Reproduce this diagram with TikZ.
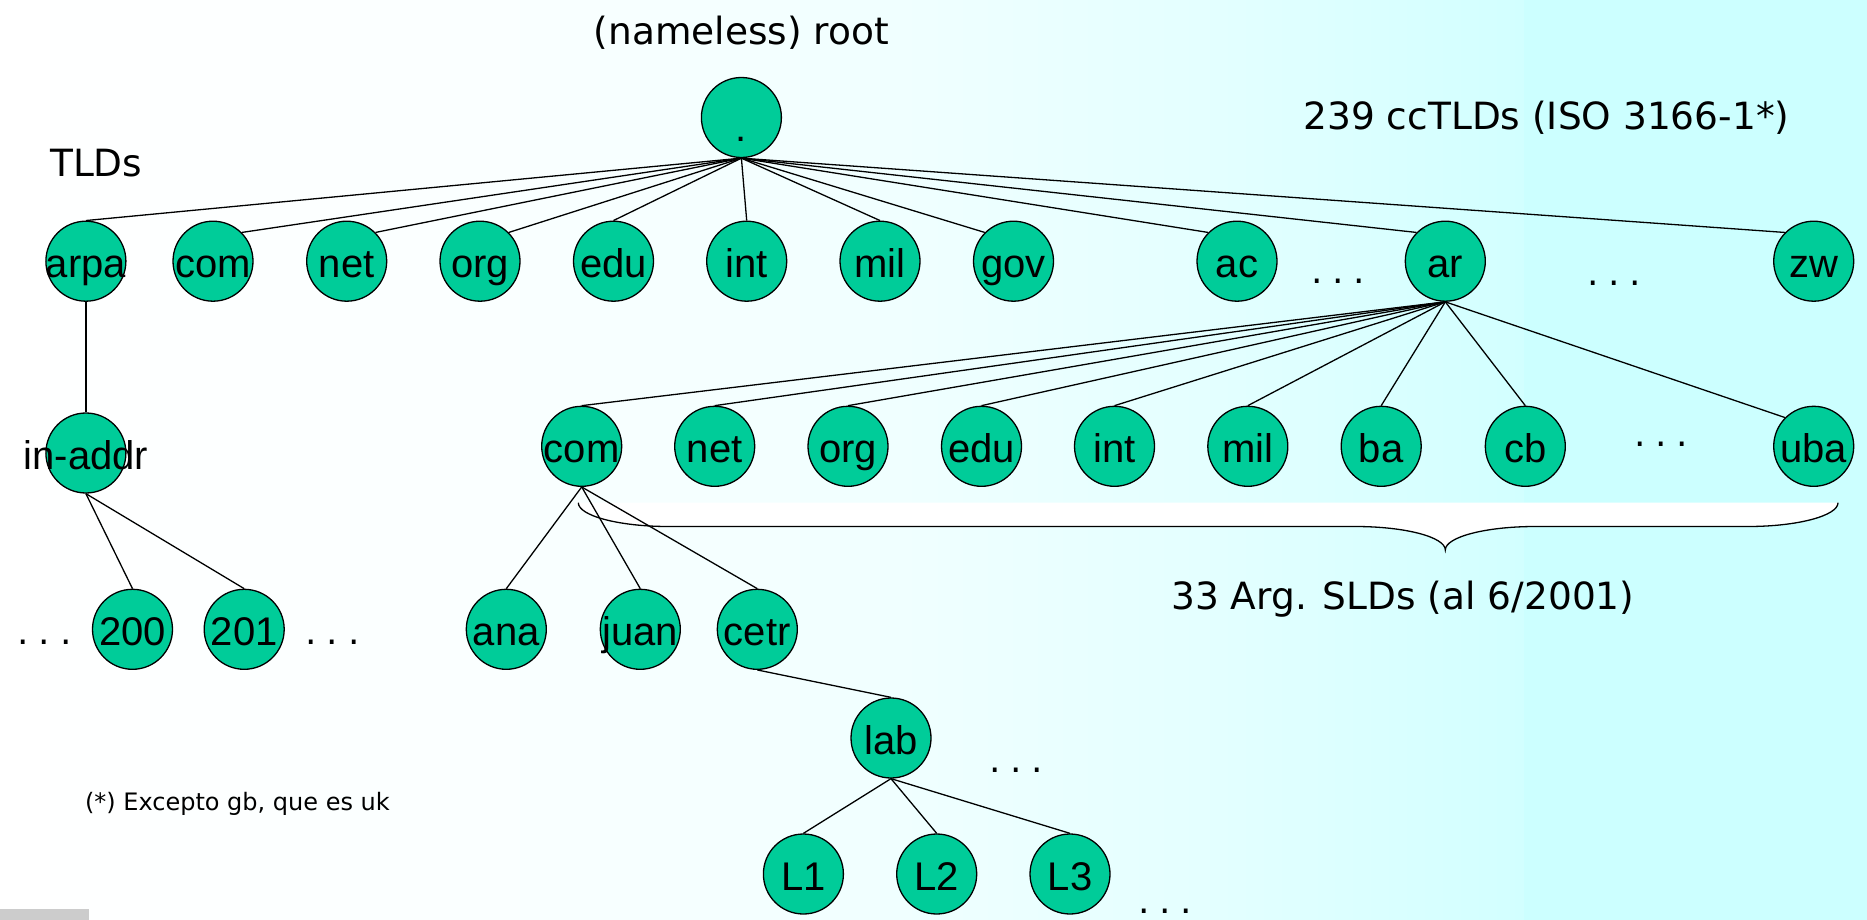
\documentclass[tikz,border=0pt]{standalone}
\usepackage{fontspec}
\setmainfont{DejaVu Sans}
\newfontfamily\labelfont{Liberation Sans}
\definecolor{dnsgreen}{RGB}{0,204,153}
\definecolor{bgA}{RGB}{255,255,255}
\definecolor{bgB}{RGB}{250,255,255}
\definecolor{bgC}{RGB}{240,255,255}
\definecolor{bgD}{RGB}{228,255,255}
\definecolor{bgE}{RGB}{214,255,255}
\definecolor{bgF}{RGB}{210,255,255}
\definecolor{bgband}{RGB}{204,255,255}
\definecolor{graybar}{RGB}{204,204,204}
% background: white to pale cyan, stops mapped onto the 25bp--75bp range
\pgfdeclarehorizontalshading{bgshade}{100bp}{color(0bp)=(bgA); color(25bp)=(bgA);
  color(41.4bp)=(bgB); color(54.5bp)=(bgC); color(64.4bp)=(bgD);
  color(72.6bp)=(bgE); color(75bp)=(bgF); color(100bp)=(bgF)}
\pgfdeclarelayer{bg}
\pgfdeclarelayer{edges}
\pgfsetlayers{bg,edges,main}
\newcommand{\moredots}{.\hspace{9.6pt}.\hspace{9.6pt}.}
\begin{document}
\begin{tikzpicture}[x=1pt,y=-1pt,
  dnode/.style={circle, draw=black, line width=1.3pt, fill=dnsgreen,
    minimum size=80pt, inner sep=0pt},
  lbl/.style={font=\labelfont\fontsize{40}{48}\selectfont, inner sep=0pt,
    text height=32pt, text depth=0pt},
  dn/.style={dnode, label={[lbl]center:#1}},
  link/.style={draw=black, line width=1.3pt},
  note/.style={font=\fontsize{37.5}{45}\selectfont, anchor=base, inner sep=0pt},
  smallnote/.style={font=\fontsize{24}{29}\selectfont, anchor=base, inner sep=0pt},
  more/.style={font=\fontsize{36}{42}\selectfont, anchor=base, inner sep=0pt},
  bracefill/.style={fill=white},
  braceline/.style={draw=black, line width=1.3pt}]

\useasboundingbox (0,0) rectangle (1867,920);

\begin{pgfonlayer}{bg}
% background
\shade[shading=bgshade] (0,0) rectangle (1524,920);
\fill[bgband] (1524,0) rectangle (1867,920);
\fill[graybar] (0,909) rectangle (89,920);

% brace under the Argentine second-level domains
\fill[bracefill] (578.3,502.7) .. controls (578.3,515.7) and (618.6,526.5) .. (668.3,526.5)
  -- (1355.3,526.5) .. controls (1405,526.5) and (1445.3,537) .. (1445.3,550)
  .. controls (1445.3,537) and (1485.6,526.5) .. (1535.3,526.5)
  -- (1748,526.5) .. controls (1797.7,526.5) and (1838,515.7) .. (1838,502.7) -- cycle;
\draw[braceline] (578.3,502.7) .. controls (578.3,515.7) and (618.6,526.5) .. (668.3,526.5)
  -- (1355.3,526.5) .. controls (1405,526.5) and (1445.3,537) .. (1445.3,550)
  .. controls (1445.3,537) and (1485.6,526.5) .. (1535.3,526.5)
  -- (1748,526.5) .. controls (1797.7,526.5) and (1838,515.7) .. (1838,502.7);
\end{pgfonlayer}

% root
\node[dnode, label={[lbl, text height=48pt]center:.}] (root) at (741.4,117.5) {};
% top-level domains
\node[dn=arpa] (arpa) at (85.9,261.2) {};
\node[dn=com] (com) at (213,261.2) {};
\node[dn=net] (net) at (346.7,261.2) {};
\node[dn=org] (org) at (480,261.2) {};
\node[dn=edu] (edu) at (613.5,261.2) {};
\node[dn=int] (int) at (746.7,261.2) {};
\node[dn=mil] (mil) at (880,261.2) {};
\node[dn=gov] (gov) at (1013.5,261.2) {};
\node[dn=ac] (ac) at (1237,261.2) {};
\node[dn=ar] (ar) at (1445.3,261.2) {};
\node[dn=zw] (zw) at (1813.7,261.2) {};
% reverse lookup branch
\node[dn=in-addr] (inaddr) at (85.9,453) {};
\node[dn=200] (n200) at (132.5,629.3) {};
\node[dn=201] (n201) at (244.2,629.3) {};
% second-level domains under ar
\node[dn=com] (arcom) at (581.7,446.3) {};
\node[dn=net] (arnet) at (714.7,446.3) {};
\node[dn=org] (arorg) at (848,446.3) {};
\node[dn=edu] (aredu) at (981.5,446.3) {};
\node[dn=int] (arint) at (1114.5,446.3) {};
\node[dn=mil] (armil) at (1247.8,446.3) {};
\node[dn=ba] (ba) at (1381.2,446.3) {};
\node[dn=cb] (cb) at (1525.3,446.3) {};
\node[dn=uba] (uba) at (1813.7,446.3) {};
% below com.ar
\node[dn=ana] (ana) at (506.3,629.3) {};
\node[dn=juan] (juan) at (640.3,629.3) {};
\node[dn=cetr] (cetr) at (757.3,629.3) {};
\node[dn=lab] (lab) at (891,738) {};
\node[dn=L1] (la) at (803.4,874) {};
\node[dn=L2] (lb) at (936.7,874) {};
\node[dn=L3] (lc) at (1070,874) {};

% connectors, kept behind the nodes
\begin{pgfonlayer}{edges}
\draw[link] (root.south) -- (arpa.north);
\draw[link] (root.south) -- (com.north east);
\draw[link] (root.south) -- (net.north east);
\draw[link] (root.south) -- (org.north east);
\draw[link] (root.south) -- (edu.north);
\draw[link] (root.south) -- (int.north);
\draw[link] (root.south) -- (mil.north);
\draw[link] (root.south) -- (gov.north west);
\draw[link] (root.south) -- (ac.north west);
\draw[link] (root.south) -- (ar.north west);
\draw[link] (root.south) -- (zw.north west);
\draw[link] (arpa.south) -- (inaddr.north);
\draw[link] (inaddr.south) -- (n200.north);
\draw[link] (inaddr.south) -- (n201.north);
\draw[link] (ar.south) -- (arcom.north);
\draw[link] (ar.south) -- (arnet.north);
\draw[link] (ar.south) -- (arorg.north);
\draw[link] (ar.south) -- (aredu.north);
\draw[link] (ar.south) -- (arint.north);
\draw[link] (ar.south) -- (armil.north);
\draw[link] (ar.south) -- (ba.north);
\draw[link] (ar.south) -- (cb.north);
\draw[link] (ar.south) -- (uba.north west);
\draw[link] (arcom.south) -- (ana.north);
\draw[link] (arcom.south) -- (juan.north);
\draw[link] (arcom.south) -- (cetr.north);
\draw[link] (cetr.south) -- (lab.north);
\draw[link] (lab.south) -- (la.north);
\draw[link] (lab.south) -- (lb.north);
\draw[link] (lab.south) -- (lc.north);
\end{pgfonlayer}

% texts
\node[note] (rootlbl) at (741.5,45) {(nameless) root};
\node[note] (tlds) at (96.2,176.7) {TLDs};
\node[note] (cctlds) at (1546.5,129.5) {239 ccTLDs (ISO 3166-1*)};
\node[note] (slds) at (1402.9,609.3) {33 Arg. SLDs (al 6/2001)};
\node[smallnote] (footnote) at (237.4,810) {(*) Excepto gb, que es uk};

% ellipses marking omitted siblings
\node[more] (moreA) at (1338.5,283.7) {\moredots};
\node[more] (moreB) at (1614,285) {\moredots};
\node[more] (moreC) at (1661,446.3) {\moredots};
\node[more] (moreD) at (44.7,644.7) {\moredots};
\node[more] (moreE) at (332.7,644.7) {\moredots};
\node[more] (moreF) at (1015.8,772.7) {\moredots};
\node[more] (moreG) at (1164.8,913) {\moredots};
\end{tikzpicture}
\end{document}
